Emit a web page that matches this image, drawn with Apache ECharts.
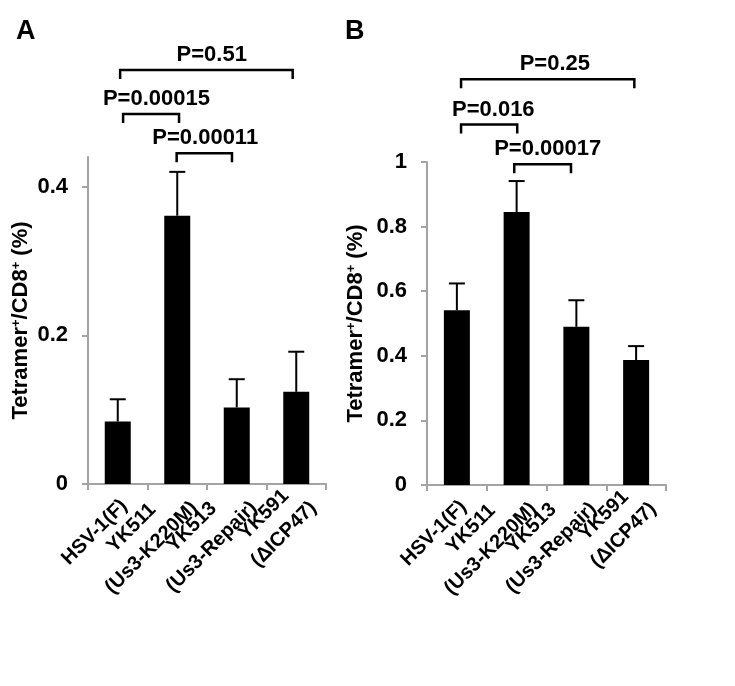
<!DOCTYPE html>
<html><head><meta charset="utf-8">
<script src="https://cdn.jsdelivr.net/npm/echarts@6/dist/echarts.min.js"></script>
<style>html,body{margin:0;padding:0;background:#fff}#c{width:735px;height:686px}</style>
</head><body><div id="c"></div>
<script>
const categories = ['HSV-1(F)', 'YK511\n(Us3-K220M)', 'YK513\n(Us3-Repair)', 'YK591\n(ΔICP47)'];
const valuesA = [0.084, 0.361, 0.103, 0.124];
const errTopA = [0.114, 0.420, 0.141, 0.178];
const valuesB = [0.541, 0.845, 0.490, 0.387];
const errTopB = [0.624, 0.941, 0.572, 0.430];
const yTicksA = [0, 0.2, 0.4];
const yTicksB = [0, 0.2, 0.4, 0.6, 0.8, 1];
// [from category, to category, height (axis units), label position (category units)]
const bracketsA = [[0.04, 2.94, 0.557, 1.58], [0.09, 1.03, 0.498, 0.65], [0.99, 1.92, 0.445, 1.47]];
const bracketLabelsA = ['P=0.51', 'P=0.00015', 'P=0.00011'];
const bracketsB = [[0.07, 2.97, 1.256, 1.64], [0.07, 1.01, 1.116, 0.61], [0.96, 1.91, 0.993, 1.52]];
const bracketLabelsB = ['P=0.25', 'P=0.016', 'P=0.00017'];
const panelLabels = ['A', 'B'];

const FONT = '"Liberation Sans", Arial, sans-serif';
const FS = 22;
const AXIS_GRAY = '#a3a3a3';

const chart = echarts.init(document.getElementById('c'), null, {renderer: 'canvas'});

const xRichBase = {fontSize: 20, fontWeight: 'bold', fontFamily: FONT, color: '#000', lineHeight: 22, align: 'center'};
function xAxisCfg(gi) {
  return {
    type: 'category', gridIndex: gi, data: categories,
    axisLine: {lineStyle: {color: AXIS_GRAY, width: 2}},
    axisTick: {show: true, length: 6, lineStyle: {color: AXIS_GRAY, width: 2}},
    axisLabel: {
      interval: 0, rotate: 45, margin: 4,
      formatter: v => {
        const lines = v.split('\n');
        if (lines.length === 1) return '{s|' + lines[0] + '}';
        return '{g| }\n' + lines.map(s => '{c|' + s + '}').join('\n');
      },
      rich: {
        s: Object.assign({}, xRichBase, {padding: [30, 6, 0, 0]}),
        g: {fontSize: 10, lineHeight: 20},
        c: Object.assign({}, xRichBase, {lineHeight: 28})
      }
    }
  };
}
const yNameRich = {
  b: {fontSize: FS, fontWeight: 'bold', fontFamily: FONT, color: '#000'},
  s: {fontSize: 13, fontWeight: 'bold', fontFamily: FONT, color: '#000', verticalAlign: 'top'}
};
function yAxisCfg(gi, max, ticks, gap) {
  return {
    type: 'value', gridIndex: gi, min: 0, max: max,
    name: '{b|Tetramer}{s|+}{b|/CD8}{s|+}{b| (%)}',
    nameLocation: 'middle', nameRotate: 90, nameGap: gap,
    nameTextStyle: {rich: yNameRich},
    splitLine: {show: false},
    axisLine: {show: true, lineStyle: {color: AXIS_GRAY, width: 2}},
    axisTick: {show: true, length: 6, customValues: ticks, lineStyle: {color: AXIS_GRAY, width: 2}},
    axisLabel: {customValues: ticks, margin: 20, fontSize: FS, fontWeight: 'bold', fontFamily: FONT, color: '#000',
      formatter: v => String(+v.toFixed(2))}
  };
}
function barSeries(gi, vals) {
  return {type: 'bar', xAxisIndex: gi, yAxisIndex: gi, data: vals, barWidth: 26,
    itemStyle: {color: '#000'}, silent: true};
}
function errSeries(gi, vals, tops) {
  return {
    type: 'custom', xAxisIndex: gi, yAxisIndex: gi, clip: false, silent: true, z: 5,
    data: vals.map((v, i) => [i, tops[i], v]),
    encode: {x: 0, y: 1},
    renderItem: (params, api) => {
      const p1 = api.coord([api.value(0), api.value(2)]);
      const p2 = api.coord([api.value(0), api.value(1)]);
      return {type: 'group', children: [
        {type: 'line', shape: {x1: p1[0], y1: p1[1], x2: p2[0], y2: p2[1]}, style: {stroke: '#000', lineWidth: 2}},
        {type: 'line', shape: {x1: p2[0] - 8, y1: p2[1], x2: p2[0] + 8, y2: p2[1]}, style: {stroke: '#000', lineWidth: 2}}
      ]};
    }
  };
}
function catToPx(api, c, v) {
  const i = Math.floor(c), f = c - i;
  const p0 = api.coord([i, v]);
  if (f === 0) return p0;
  const p1 = api.coord([i + 1, v]);
  return [p0[0] + (p1[0] - p0[0]) * f, p0[1]];
}
function bracketSeries(gi, br, labels) {
  return {
    type: 'custom', xAxisIndex: gi, yAxisIndex: gi, clip: false, silent: true, z: 5,
    data: br.map(b => [Math.round(b[0]), Math.round(b[1]), b[2]]), encode: {x: [0, 1], y: 2},
    renderItem: (params, api) => {
      const d = br[params.dataIndex];
      const a = catToPx(api, d[0], d[2]);
      const b = catToPx(api, d[1], d[2]);
      const t = catToPx(api, d[3], d[2]);
      const y = a[1], drop = 9;
      return {type: 'group', children: [
        {type: 'polyline', shape: {points: [[a[0], y + drop], [a[0], y], [b[0], y], [b[0], y + drop]]},
          style: {stroke: '#000', lineWidth: 2.5, fill: 'none'}},
        {type: 'text', x: t[0], y: y - 15,
          style: {text: labels[params.dataIndex], fontSize: FS, fontWeight: 'bold', fontFamily: FONT,
            fill: '#000', align: 'center', verticalAlign: 'middle'}}
      ]};
    }
  };
}

chart.setOption({
  animation: false,
  backgroundColor: '#fff',
  grid: [
    {left: 88, top: 157, width: 238, height: 327},
    {left: 427, top: 162, width: 239, height: 323}
  ],
  xAxis: [xAxisCfg(0), xAxisCfg(1)],
  yAxis: [yAxisCfg(0, 0.44, yTicksA, 56), yAxisCfg(1, 1, yTicksB, 60)],
  graphic: [
    {type: 'text', left: 16, top: 18, style: {text: panelLabels[0], fontSize: 27, fontWeight: 'bold', fontFamily: FONT, fill: '#000'}},
    {type: 'text', left: 345, top: 18, style: {text: panelLabels[1], fontSize: 27, fontWeight: 'bold', fontFamily: FONT, fill: '#000'}}
  ],
  series: [
    barSeries(0, valuesA), errSeries(0, valuesA, errTopA), bracketSeries(0, bracketsA, bracketLabelsA),
    barSeries(1, valuesB), errSeries(1, valuesB, errTopB), bracketSeries(1, bracketsB, bracketLabelsB)
  ]
});
</script></body></html>
